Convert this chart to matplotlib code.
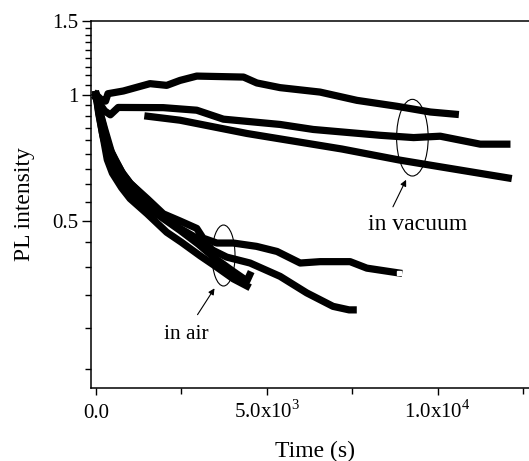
import matplotlib
matplotlib.use("Agg")
import matplotlib.pyplot as plt
import numpy as np
from matplotlib.patches import Ellipse

plt.rcParams["font.family"] = "Liberation Serif"
plt.rcParams["mathtext.fontset"] = "custom"
plt.rcParams["mathtext.rm"] = "Liberation Serif"

# curves measured in vacuum
t_vac_a = [0, 200, 280, 350, 800, 1580, 2070, 2460, 2950, 4320, 4710, 5390, 6560, 7640, 8810, 9790, 10520]
I_vac_a = [1.0, 0.965, 0.965, 1.005, 1.02, 1.062, 1.052, 1.081, 1.107, 1.101, 1.066, 1.039, 1.014, 0.969, 0.938, 0.909, 0.898]

t_vac_b = [0, 250, 420, 650, 1970, 2950, 3730, 5390, 6360, 8320, 9300, 10080, 11250, 12030]
I_vac_b = [0.98, 0.915, 0.895, 0.932, 0.931, 0.918, 0.874, 0.849, 0.826, 0.800, 0.790, 0.796, 0.762, 0.762]

t_vac_c = [1520, 2460, 4420, 7200, 8900, 10080, 10960, 12070]
I_vac_c = [0.888, 0.869, 0.808, 0.742, 0.698, 0.673, 0.655, 0.633]

# curves measured in air
t_air_1 = [0, 80, 200, 350, 550, 800, 1000, 1500, 1970, 2460, 2950, 3135, 3540, 4020, 4700, 5300, 5980, 6560, 7440, 7930, 8860]
I_air_1 = [1.0, 0.93, 0.85, 0.76, 0.70, 0.645, 0.615, 0.565, 0.52, 0.50, 0.48, 0.455, 0.443, 0.443, 0.435, 0.423, 0.397, 0.400, 0.400, 0.386, 0.376]

t_air_2 = [0, 100, 250, 450, 750, 1000, 1500, 1970, 2460, 2950, 3440, 3830, 4510, 5390, 6170, 6940, 7410, 7530]
I_air_2 = [1.0, 0.92, 0.83, 0.73, 0.655, 0.615, 0.56, 0.515, 0.48, 0.455, 0.425, 0.41, 0.397, 0.369, 0.337, 0.313, 0.307, 0.307]

t_air_3 = [0, 90, 200, 350, 550, 800, 1200, 1700, 2460, 3000, 3440, 4000, 4420, 4500]
I_air_3 = [1.0, 0.9, 0.8, 0.72, 0.665, 0.615, 0.57, 0.525, 0.475, 0.44, 0.41, 0.38, 0.36, 0.372]

t_air_4 = [0, 80, 200, 330, 480, 750, 1000, 1500, 2070, 2500, 3050, 3500, 4020, 4420]
I_air_4 = [1.0, 0.9, 0.8, 0.7, 0.65, 0.6, 0.565, 0.52, 0.47, 0.445, 0.413, 0.39, 0.364, 0.35]

x_ticks = [0, 5000, 10000]
x_labels = ["0.0", r"5.0x10$^{3}$", r"1.0x10$^{4}$"]
y_ticks = [0.5, 1, 1.5]
y_labels = ["0.5", "1", "1.5"]

fig = plt.figure(figsize=(5.29, 4.61), dpi=100)
ax = fig.add_axes([90.7 / 529, 73 / 461, 449.3 / 529, 367.3 / 461])

curves = [(t_vac_a, I_vac_a), (t_vac_b, I_vac_b), (t_vac_c, I_vac_c),
          (t_air_1, I_air_1), (t_air_2, I_air_2), (t_air_3, I_air_3), (t_air_4, I_air_4)]
for t, I in curves:
    ax.plot(t, I, "k-", lw=5.2, solid_capstyle="projecting", solid_joinstyle="round")
ax.plot(t_air_1[-1], I_air_1[-1], "s", ms=3, mfc="white", mec="white")

ax.set_yscale("log")
ax.set_xlim(-155, 13000)
ax.set_ylim(0.2, 1.5)

ax.set_yticks(y_ticks, y_labels)
ax.set_yticks(np.arange(4, 27) / 18, minor=True)
ax.yaxis.set_minor_formatter(matplotlib.ticker.NullFormatter())
ax.set_xticks(x_ticks, x_labels)
ax.set_xticks([2500, 7500, 12500], minor=True)

ax.tick_params(axis="both", which="both", direction="out", width=1.0, labelsize=15)
ax.tick_params(axis="y", which="major", length=6.5, pad=2.5)
ax.tick_params(axis="y", which="minor", length=4)
ax.tick_params(axis="x", which="major", length=4.7, pad=17)
ax.tick_params(axis="x", which="minor", length=4)
for lab in ax.get_xticklabels():
    lab.set_verticalalignment("baseline")

for s in ax.spines.values():
    s.set_linewidth(1.1)

ax.set_xlabel("Time (s)", fontsize=17, labelpad=13)
ax.set_ylabel("PL intensity", fontsize=17, labelpad=12)

# ellipses and arrows marking the two groups
ax.add_patch(Ellipse((0.2956, 0.3607), 0.0512, 0.166, transform=ax.transAxes,
                     fill=False, lw=0.8, ec="black"))
ax.add_patch(Ellipse((0.716, 0.6815), 0.0703, 0.2088, transform=ax.transAxes,
                     fill=False, lw=0.8, ec="black"))
ax.annotate("", xy=(0.2789, 0.2777), xytext=(0.2344, 0.1933), xycoords="axes fraction",
            arrowprops=dict(arrowstyle="-|>", lw=0.8, color="black", mutation_scale=9))
ax.annotate("", xy=(0.7047, 0.5737), xytext=(0.670, 0.4865), xycoords="axes fraction",
            arrowprops=dict(arrowstyle="-|>", lw=0.8, color="black", mutation_scale=9))
ax.text(0.2132, 0.147, "in air", transform=ax.transAxes, fontsize=15.5, ha="center", va="center")
ax.text(0.7274, 0.4465, "in vacuum", transform=ax.transAxes, fontsize=17, ha="center", va="center")

fig.savefig("out.png", dpi=100)
